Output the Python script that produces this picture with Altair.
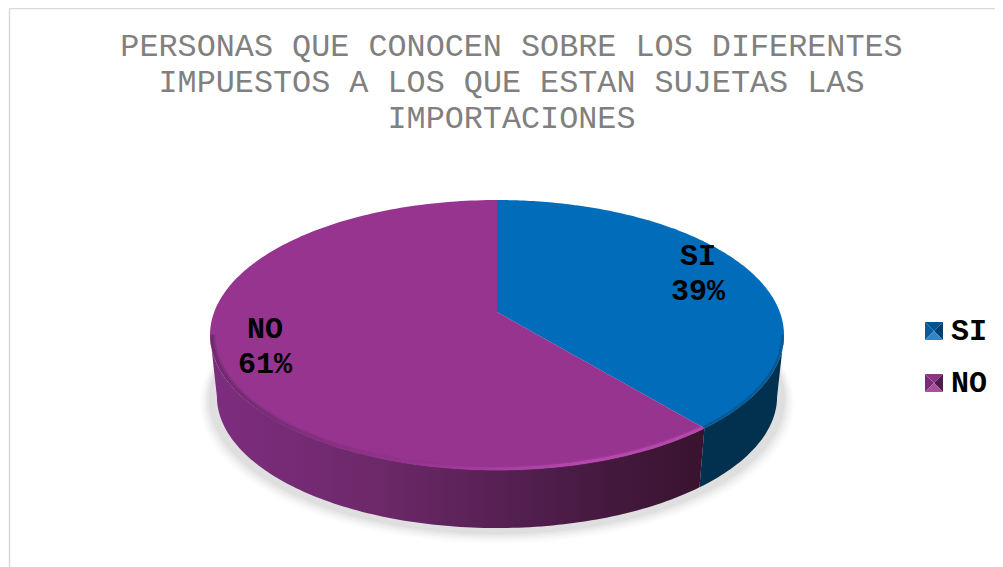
import math
import altair as alt
import pandas as pd

# ---- content
labels = ["SI", "NO"]
values = [39, 61]
face_colors = ["#006cba", "#963490"]
title_lines = [
    "PERSONAS QUE CONOCEN SOBRE LOS DIFERENTES",
    "IMPUESTOS A LOS QUE ESTAN SUJETAS LAS",
    "IMPORTACIONES",
]
bevel_shades = {
    "SI": ["#0a5c9c", "#00558f", "#003f70", "#2f86c8"],
    "NO": ["#7d2a78", "#8a3486", "#4f1a4c", "#a850a0"],
}

W, H = 987, 559
CX, CY = 497.0, 312.0
A, B, C = 282.8, 131.0, -0.17
FONT = "Liberation Mono"


def proj(theta, r=1.0, s=1.0, dy=0.0):
    """Perspective view of a point of the flat pie: theta clockwise from the top."""
    u, v = r * math.sin(theta), -r * math.cos(theta)
    d = 1 + C * v
    return CX + s * A * u / d, CY + dy + s * B * v / d


def arc(t0, t1, n=90, **kw):
    return [proj(t0 + (t1 - t0) * k / n, **kw) for k in range(n + 1)]


def frame(points, **extra):
    return pd.DataFrame(
        [{"x": p[0], "y": p[1], "i": i, **extra} for i, p in enumerate(points)]
    )


xs = alt.Scale(domain=[8, 8 + W], range=[0, W], nice=False, zero=False)
ys = alt.Scale(domain=[8 + H, 8], range=[H, 0], nice=False, zero=False)
X = alt.X("x:Q", scale=xs, axis=None)
Y = alt.Y("y:Q", scale=ys, axis=None)


def poly(df, **mark):
    mark.setdefault("strokeWidth", 0)
    return alt.Chart(df).mark_line(**mark).encode(x=X, y=Y, order="i:Q")


def grad(stops):
    return alt.LinearGradient(
        gradient="linear",
        x1=0, x2=1, y1=0, y2=0,
        stops=[alt.GradientStop(color=c, offset=o) for o, c in stops],
    )


total = sum(values)
cut = 2 * math.pi * values[0] / total
TAU = 2 * math.pi
right_t = math.acos(C)               # silhouette on the right
left_t = TAU - right_t               # silhouette on the left
DEPTH = 62.0
SB = 0.976

layers = []

# soft shadow under the pie
for s, dy, op in [(1.035, 68, .025), (1.028, 67, .035), (1.02, 66, .05),
                  (1.012, 65, .06), (1.004, 64, .07)]:
    layers.append(poly(frame(arc(0, TAU, n=180, s=s, dy=dy)),
                       fill="#777777", fillOpacity=op))

# side walls
wall_si = arc(right_t, cut, n=40) + arc(cut, right_t, n=40, s=SB, dy=DEPTH)
wall_no = arc(cut, left_t, n=120) + arc(left_t, cut, n=120, s=SB, dy=DEPTH)
layers.append(poly(frame(wall_si), fill="#02304f"))
layers.append(poly(frame(wall_no), fill=grad([
    (0.0, "#7e2d80"), (0.35, "#6c2868"), (0.6, "#552052"),
    (0.8, "#45193f"), (1.0, "#38132f"),
])))

# top faces, which also carry the legend
rows = []
start = 0.0
for lab, val in zip(labels, values):
    end = start + TAU * val / total
    pts = [(CX, CY)] + arc(start, end, n=180)
    rows.append(frame(pts, label=lab))
    start = end
faces = (
    alt.Chart(pd.concat(rows))
    .mark_line(strokeWidth=0)
    .encode(
        x=X, y=Y, order="i:Q",
        fill=alt.Fill(
            "label:N",
            scale=alt.Scale(domain=labels, range=face_colors),
            legend=alt.Legend(
                title=None, orient="none", legendX=912, legendY=308,
                symbolType="square", symbolSize=324, symbolStrokeWidth=0,
                symbolOpacity=0,
                labelFont=FONT, labelFontSize=30, labelFontWeight="bold",
                labelColor="#000000", labelOffset=1, rowPadding=22,
                labelLimit=80,
            ),
        ),
    )
)
layers.append(faces)

# bevel of the rim
layers.append(poly(frame(arc(cut, left_t, n=120, s=.99)), strokeWidth=5, stroke=grad([
    (0, "#6a2a66"), (0.45, "#8a3286"), (0.75, "#a53c9e"), (1, "#a8409f")]),
    strokeOpacity=.4, fillOpacity=0))
layers.append(poly(frame(arc(cut, left_t, n=120, s=.993)), strokeWidth=3, stroke=grad([
    (0, "#70296c"), (0.45, "#9a3594"), (0.75, "#b848ae"), (1, "#b548ac")]),
    fillOpacity=0))
layers.append(poly(frame(arc(right_t, cut, n=40, s=.995)), strokeWidth=3,
                   stroke="#0a4f82", strokeOpacity=.6, fillOpacity=0))

# bevelled legend keys laid over the legend's own squares
KEY_X, KEY_R = 934.0, 9.0
for lab, key_y, shades in zip(labels, [331.0, 383.0], [bevel_shades[l] for l in labels]):
    corners = [(KEY_X - KEY_R, key_y - KEY_R), (KEY_X + KEY_R, key_y - KEY_R),
               (KEY_X + KEY_R, key_y + KEY_R), (KEY_X - KEY_R, key_y + KEY_R)]
    sides = [(3, 0, shades[0]), (0, 1, shades[1]), (1, 2, shades[2]), (2, 3, shades[3])]
    for a, b, shade in sides:
        layers.append(poly(frame([corners[a], corners[b], (KEY_X, key_y)]), fill=shade))

# data labels, half way through each slice
text_rows = []
start = 0.0
for lab, val, r in zip(labels, values, [0.79, 0.83]):
    mid = start + TAU * val / total / 2
    px, py = proj(mid, r=r)
    text_rows.append({"x": px, "y": py - 22, "t": f"{lab}\n{round(100 * val / total)}%"})
    start += TAU * val / total
layers.append(
    alt.Chart(pd.DataFrame(text_rows))
    .mark_text(font=FONT, fontSize=30, fontWeight="bold", color="#000000",
               lineBreak="\n", lineHeight=35, align="center", baseline="middle")
    .encode(x=X, y=Y, text="t:N")
)

# the thin frame of the chart area
border = "#d9d9d9"
layers.append(alt.Chart(pd.DataFrame({"a": [0]})).mark_rule(color=border, strokeWidth=1.5)
              .encode(x=alt.value(1.5), y=alt.value(0.5), y2=alt.value(H)))
layers.append(alt.Chart(pd.DataFrame({"a": [0]})).mark_rule(color=border, strokeWidth=1.5)
              .encode(x=alt.value(1.5), x2=alt.value(W), y=alt.value(0.5)))

chart = (
    alt.layer(*layers)
    .resolve_scale(fill="independent")
    .properties(
        width=W, height=H, padding=0,
        autosize=alt.AutoSizeParams(type="none"),
        title=alt.TitleParams(
            text=title_lines, font=FONT, fontSize=31.8, fontWeight="normal",
            color="#808080", lineHeight=36, anchor="middle", dx=10, offset=-127,
        ),
    )
    .configure_view(stroke=None)
)
chart.save("out.html", embed_options={"renderer": "svg", "actions": False})
